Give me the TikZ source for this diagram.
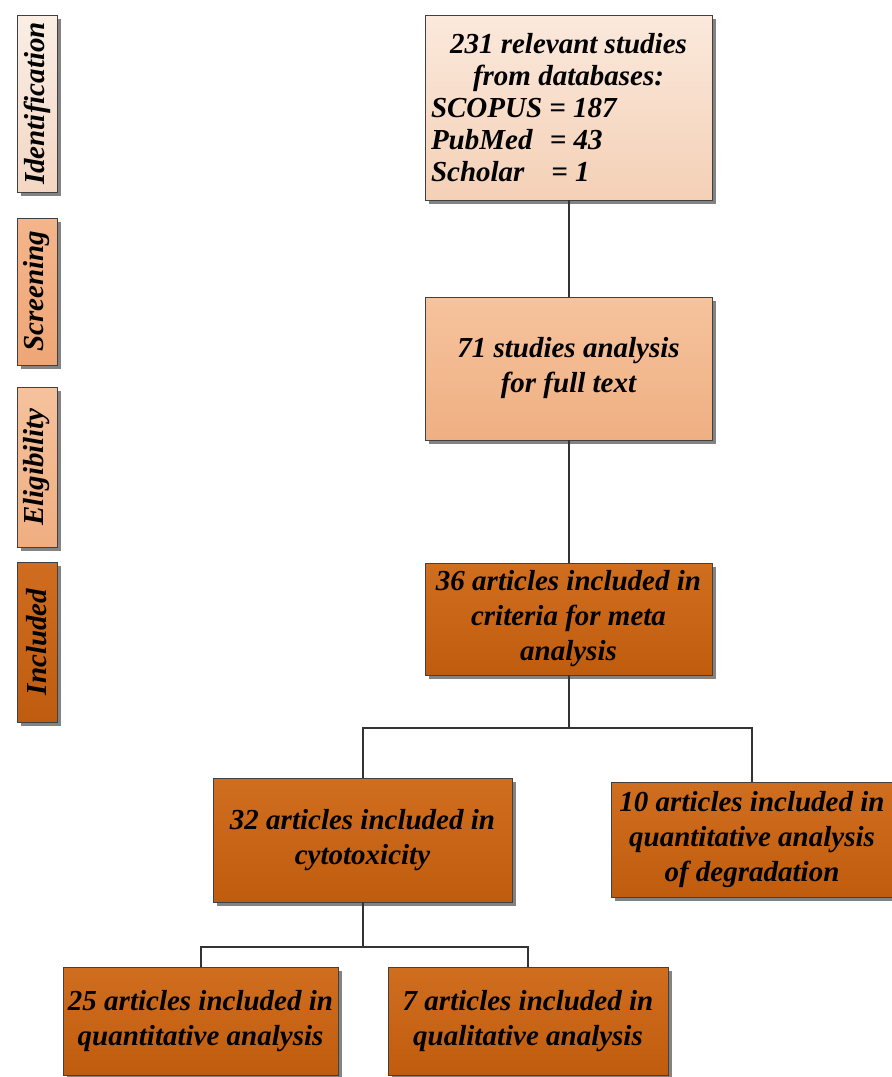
\documentclass[tikz,border=0pt]{standalone}
\usepackage{fontspec}
\setmainfont{Liberation Serif}
\usetikzlibrary{shadows}
\definecolor{cAt}{HTML}{FBE9DC}\definecolor{cAb}{HTML}{F4D0B6}
\definecolor{cBt}{HTML}{F6C39D}\definecolor{cBb}{HTML}{EFAF82}
\definecolor{cCt}{HTML}{D06E20}\definecolor{cCb}{HTML}{C05C0E}
\definecolor{lAt}{HTML}{FAEEE5}\definecolor{lAb}{HTML}{F3D7C3}
\definecolor{lBt}{HTML}{F4B58B}\definecolor{lBb}{HTML}{EFA676}
\definecolor{lCt}{HTML}{F5C29D}\definecolor{lCb}{HTML}{F0AE80}
\definecolor{lDt}{HTML}{CF6C20}\definecolor{lDb}{HTML}{BF5C10}
\begin{document}
\begin{tikzpicture}[x=1pt,y=-1pt,
  base/.style={draw=black!75, line width=0.9pt, inner sep=0pt,
    font=\fontsize{29}{35}\selectfont\bfseries\itshape,
    drop shadow={shadow xshift=4pt, shadow yshift=-4pt, fill=black!65, opacity=0.75}},
  boxA/.style={base, top color=cAt, bottom color=cAb},
  boxB/.style={base, top color=cBt, bottom color=cBb},
  boxC/.style={base, top color=cCt, bottom color=cCb},
  lab/.style={base, rotate=90, minimum height=40pt},
  conn/.style={draw=black!80, line width=2pt}]
\useasboundingbox (0,0) rectangle (892,1077);
% stage labels
\node[lab, top color=lAt, bottom color=lAb, minimum width=177pt] (lid) at (37,103.5) {Identification};
\node[lab, top color=lBt, bottom color=lBb, minimum width=147pt] (lsc) at (37,291.5) {Screening};
\node[lab, top color=lCt, bottom color=lCb, minimum width=160pt] (lel) at (37,467) {Eligibility};
\node[lab, top color=lDt, bottom color=lDb, minimum width=160pt] (lin) at (37,642) {Included};
% boxes
\node[boxA, minimum width=287pt, minimum height=185pt, align=center,
      font=\fontsize{29}{32}\selectfont\bfseries\itshape] (b1) at (568.5,107.5)
 {231 relevant studies\\ from databases:\\
  \makebox[275pt][l]{SCOPUS = 187}\\
  \makebox[275pt][l]{\makebox[4.1em][l]{PubMed}= 43}\\
  \makebox[275pt][l]{\makebox[4.15em][l]{Scholar}= 1}};
\node[boxB, minimum width=287pt, minimum height=143pt, align=center] (b2) at (568.5,368.5)
 {71 studies analysis\\ for full text};
\node[boxC, minimum width=287pt, minimum height=112pt, align=center] (b3) at (568.5,619)
 {36 articles included in\\ criteria for meta\\ analysis};
\node[boxC, minimum width=299pt, minimum height=124pt, align=center] (b4) at (362.5,840)
 {32 articles included in\\ cytotoxicity};
\node[boxC, minimum width=282pt, minimum height=115pt, align=center] (b5) at (752,839.5)
 {10 articles included in\\ quantitative analysis\\ of degradation};
\node[boxC, minimum width=275pt, minimum height=108pt, align=center] (b6) at (200.5,1021)
 {25 articles included in\\ quantitative analysis};
\node[boxC, minimum width=280pt, minimum height=108pt, align=center] (b7) at (528,1021)
 {7 articles included in\\ qualitative analysis};
% connectors
\coordinate (j1) at (568.5,728);
\coordinate (j2) at (362.5,947);
\draw[conn] (b1.south) -- (b2.north);
\draw[conn] (b2.south) -- (b3.north);
\draw[conn] (b3.south) -- (j1);
\draw[conn] (j1) -| (b4.north);
\draw[conn] (j1) -| (b5.north);
\draw[conn] (b4.south) -- (j2);
\draw[conn] (j2) -| (b6.north);
\draw[conn] (j2) -| (b7.north);
\end{tikzpicture}
\end{document}
